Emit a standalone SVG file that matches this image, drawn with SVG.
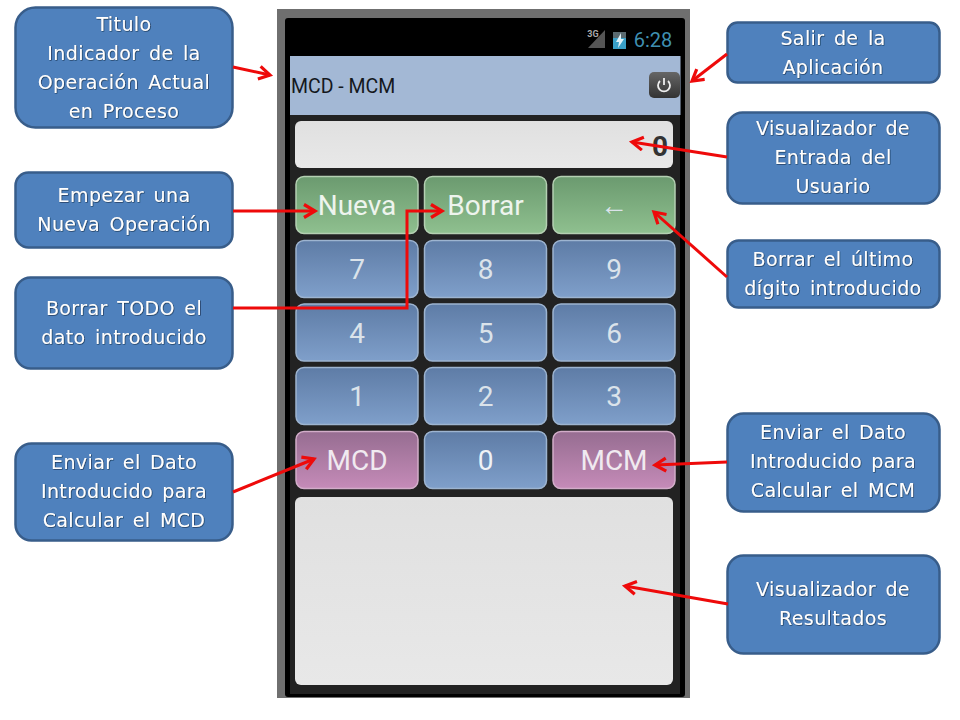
<svg xmlns="http://www.w3.org/2000/svg" width="960" height="720" viewBox="0 0 960 720">
<style>
.box{fill:#4f81bd;stroke:#385d8a;stroke-width:2.500}
.lbl{font-family:"DejaVu Sans",sans-serif;font-size:19px;fill:#fff;text-anchor:middle;word-spacing:3px;letter-spacing:.4px;filter:url(#ts)}
.key{stroke:#9db4d0;stroke-width:1.500}
.k{font-family:Roboto,"Liberation Sans",sans-serif;font-size:28px;fill:#dbe3ea;text-anchor:middle}
.a{fill:none;stroke:#ee0a0a;stroke-width:3;marker-end:url(#ah)}
</style>
<defs>
<filter id="ts" x="-5%" y="-20%" width="110%" height="140%"><feDropShadow dx="0.6" dy="0.6" stdDeviation="0.3" flood-color="#10203a" flood-opacity=".9"/></filter>
<linearGradient id="gB" x1="0" y1="0" x2="0" y2="1"><stop offset="0" stop-color="#5e7ca6"/><stop offset="1" stop-color="#7f9fca"/></linearGradient>
<linearGradient id="gG" x1="0" y1="0" x2="0" y2="1"><stop offset="0" stop-color="#6b9a6f"/><stop offset="1" stop-color="#8fc08f"/></linearGradient>
<linearGradient id="gP" x1="0" y1="0" x2="0" y2="1"><stop offset="0" stop-color="#966d91"/><stop offset="1" stop-color="#c58bb8"/></linearGradient>
<linearGradient id="gD" x1="0" y1="0" x2="0" y2="1"><stop offset="0" stop-color="#e0e0e0"/><stop offset="1" stop-color="#e8e8e8"/></linearGradient>
<linearGradient id="gS" x1="0" y1="0" x2="0" y2="1"><stop offset="0" stop-color="#666"/><stop offset="1" stop-color="#333"/></linearGradient>
<marker id="ah" markerUnits="userSpaceOnUse" markerWidth="18" markerHeight="18" refX="13" refY="8" orient="auto"><path d="M2 1.500 L13 8 L2 14.500" fill="none" stroke="#ee0a0a" stroke-width="3.200"/></marker>
</defs>
<rect width="960" height="720" fill="#fff"/>
<g id="phone">
<rect x="277" y="9" width="413" height="689" fill="#6f6f6f"/>
<rect x="285" y="18" width="400" height="679" rx="3" fill="#000"/>
<rect x="290" y="115" width="390" height="579" fill="#222"/>
<g id="status-bar">
<path d="M588 48 L605 30 V48Z" fill="#555"/>
<text x="593" y="37" font-family="Roboto,sans-serif" font-size="9" font-weight="bold" fill="#aaa" text-anchor="middle">3G</text>
<rect x="613" y="32" width="13" height="17" fill="#39a0c8"/><rect x="613" y="32" width="13" height="6" fill="#5a6a70"/>
<path d="M621 33 L616 42 H619 L618 48 L624 39 H621Z" fill="#dff2f9"/>
<text x="653" y="47" font-family="Roboto,sans-serif" font-size="20" fill="#3f8fb0" text-anchor="middle">6:28</text>
</g>
<g id="title-bar">
<rect x="290" y="56" width="390.500" height="59" fill="#a3b8d5"/>
<text x="291" y="93" font-family="Roboto,'Liberation Sans',sans-serif" font-size="19.500" fill="#15181d">MCD - MCM</text>
<rect x="649" y="72" width="31" height="26" rx="5" fill="url(#gS)"/>
<path d="M660 81 A6 6 0 1 0 668 81 M664 78 V85" fill="none" stroke="#eee" stroke-width="1.800"/>
</g>
<g id="display">
<rect x="295" y="121" width="378" height="47" rx="6" fill="url(#gD)"/>
<text x="660" y="156" font-family="Roboto,sans-serif" font-size="28" font-weight="bold" fill="#333" text-anchor="middle">0</text>
</g>
<g id="btn-nueva"><rect class="key" x="296" y="176.500" width="122" height="57" rx="8" fill="url(#gG)" style="stroke:#b4d0b2"/><text class="k" x="357" y="215" style="fill:#eef4ee">Nueva</text></g>
<g id="btn-borrar"><rect class="key" x="424.500" y="176.500" width="122" height="57" rx="8" fill="url(#gG)" style="stroke:#b4d0b2"/><text class="k" x="485.500" y="215" style="fill:#eef4ee">Borrar</text></g>
<g id="btn-back"><rect class="key" x="553" y="176.500" width="122" height="57" rx="8" fill="url(#gG)" style="stroke:#b4d0b2"/><text class="k" x="614" y="215">←</text></g>
<g id="btn-7"><rect class="key" x="296" y="240.500" width="122" height="57" rx="8" fill="url(#gB)"/><text class="k" x="357" y="279">7</text></g>
<g id="btn-8"><rect class="key" x="424.500" y="240.500" width="122" height="57" rx="8" fill="url(#gB)"/><text class="k" x="485.500" y="279">8</text></g>
<g id="btn-9"><rect class="key" x="553" y="240.500" width="122" height="57" rx="8" fill="url(#gB)"/><text class="k" x="614" y="279">9</text></g>
<g id="btn-4"><rect class="key" x="296" y="304" width="122" height="57" rx="8" fill="url(#gB)"/><text class="k" x="357" y="343">4</text></g>
<g id="btn-5"><rect class="key" x="424.500" y="304" width="122" height="57" rx="8" fill="url(#gB)"/><text class="k" x="485.500" y="343">5</text></g>
<g id="btn-6"><rect class="key" x="553" y="304" width="122" height="57" rx="8" fill="url(#gB)"/><text class="k" x="614" y="343">6</text></g>
<g id="btn-1"><rect class="key" x="296" y="367.500" width="122" height="57" rx="8" fill="url(#gB)"/><text class="k" x="357" y="406">1</text></g>
<g id="btn-2"><rect class="key" x="424.500" y="367.500" width="122" height="57" rx="8" fill="url(#gB)"/><text class="k" x="485.500" y="406">2</text></g>
<g id="btn-3"><rect class="key" x="553" y="367.500" width="122" height="57" rx="8" fill="url(#gB)"/><text class="k" x="614" y="406">3</text></g>
<g id="btn-mcd"><rect class="key" x="296" y="431.500" width="122" height="57" rx="8" fill="url(#gP)" style="stroke:#d2adc9"/><text class="k" x="357" y="470" style="fill:#f0eaf0">MCD</text></g>
<g id="btn-0"><rect class="key" x="424.500" y="431.500" width="122" height="57" rx="8" fill="url(#gB)"/><text class="k" x="485.500" y="470" style="fill:#eef2f6">0</text></g>
<g id="btn-mcm"><rect class="key" x="553" y="431.500" width="122" height="57" rx="8" fill="url(#gP)" style="stroke:#d2adc9"/><text class="k" x="614" y="470" style="fill:#f0eaf0">MCM</text></g>
<g id="results"><rect x="295" y="497" width="378" height="188" rx="6" fill="url(#gD)"/></g>
</g>
<g id="n-titulo"><rect class="box" x="15.500" y="7.500" width="217" height="120" rx="20"/><text class="lbl"><tspan x="124" y="31">Titulo</tspan><tspan x="124" y="60">Indicador de la</tspan><tspan x="124" y="89">Operación Actual</tspan><tspan x="124" y="118">en Proceso</tspan></text></g>
<g id="n-empezar"><rect class="box" x="15.500" y="172.500" width="217" height="75" rx="13"/><text class="lbl"><tspan x="124" y="202">Empezar una</tspan><tspan x="124" y="231">Nueva Operación</tspan></text></g>
<g id="n-borrar"><rect class="box" x="15.500" y="277.500" width="217" height="91" rx="15"/><text class="lbl"><tspan x="124" y="315">Borrar TODO el</tspan><tspan x="124" y="344">dato introducido</tspan></text></g>
<g id="n-mcd"><rect class="box" x="15.500" y="443.500" width="217" height="97" rx="16"/><text class="lbl"><tspan x="124" y="469">Enviar el Dato</tspan><tspan x="124" y="498">Introducido para</tspan><tspan x="124" y="527">Calcular el MCD</tspan></text></g>
<g id="n-salir"><rect class="box" x="727.500" y="22.500" width="212" height="60" rx="10"/><text class="lbl"><tspan x="833" y="45">Salir de la</tspan><tspan x="833" y="74">Aplicación</tspan></text></g>
<g id="n-entrada"><rect class="box" x="727.500" y="112.500" width="212" height="91" rx="15"/><text class="lbl"><tspan x="833" y="135">Visualizador de</tspan><tspan x="833" y="164">Entrada del</tspan><tspan x="833" y="193">Usuario</tspan></text></g>
<g id="n-ultimo"><rect class="box" x="727.500" y="240.500" width="212" height="67" rx="11"/><text class="lbl"><tspan x="833" y="266">Borrar el último</tspan><tspan x="833" y="295">dígito introducido</tspan></text></g>
<g id="n-mcm"><rect class="box" x="727.500" y="413.500" width="212" height="98" rx="16"/><text class="lbl"><tspan x="833" y="439">Enviar el Dato</tspan><tspan x="833" y="468">Introducido para</tspan><tspan x="833" y="497">Calcular el MCM</tspan></text></g>
<g id="n-resultados"><rect class="box" x="727.500" y="555.500" width="212" height="98" rx="16"/><text class="lbl"><tspan x="833" y="596">Visualizador de</tspan><tspan x="833" y="625">Resultados</tspan></text></g>
<g id="connectors">
<path class="a" d="M233 67 L270 75"/>
<path class="a" d="M233 211 H315"/>
<path class="a" d="M233 308 H407 V211 H442"/>
<path class="a" d="M233 492 L314 459"/>
<path class="a" d="M727 54 L692 81"/>
<path class="a" d="M727 157 L632 142"/>
<path class="a" d="M727 277 L654 212"/>
<path class="a" d="M727 462 L655 465"/>
<path class="a" d="M728 604 L625 586"/>
</g>
</svg>
